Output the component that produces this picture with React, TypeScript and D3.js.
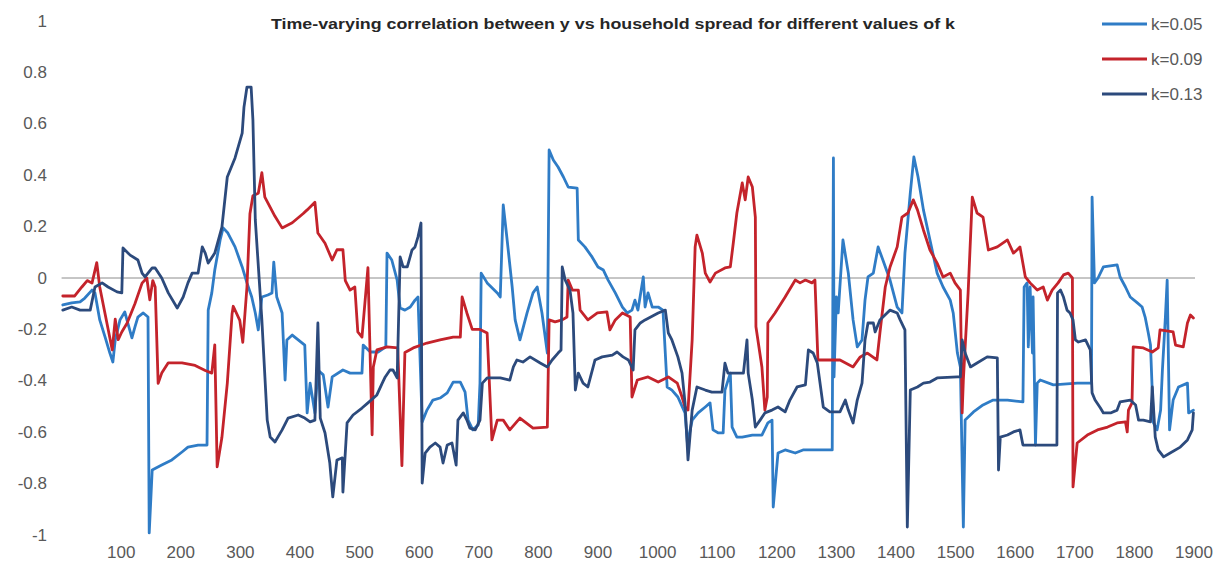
import React from "react";
import * as d3 from "d3";

const TITLE = "Time-varying correlation between y vs household spread for different values of k";
const SERIES_NAMES = ["k=0.05", "k=0.09", "k=0.13"];
const Y_TICKS = [1, 0.8, 0.6, 0.4, 0.2, 0, -0.2, -0.4, -0.6, -0.8, -1];
const X_TICKS = [100, 200, 300, 400, 500, 600, 700, 800, 900, 1000, 1100, 1200, 1300, 1400, 1500, 1600, 1700, 1800, 1900];

// [observation index, correlation]
const k005: [number, number][] = [
  [2,-0.105],[17,-0.097],[31,-0.093],[39,-0.078],[51,-0.047],[56,-0.058],[64,-0.163],[73,-0.23],[81,-0.292],[86,-0.327],
  [90,-0.241],[98,-0.163],[106,-0.132],[111,-0.175],[118,-0.233],[123,-0.191],[128,-0.152],[137,-0.136],[145,-0.152],[147,-0.992],
  [152,-0.747],[168,-0.728],[185,-0.708],[202,-0.677],[212,-0.658],[229,-0.65],[244,-0.65],[246,-0.125],[252,-0.058],[257,0.031],
  [266,0.148],[271,0.195],[279,0.175],[291,0.121],[303,0.043],[311,-0.019],[319,-0.074],[325,-0.136],[330,-0.202],[336,-0.074],
  [346,-0.066],[353,-0.058],[356,0.062],[361,-0.074],[370,-0.136],[375,-0.397],[378,-0.241],[387,-0.222],[397,-0.241],[408,-0.261],
  [412,-0.525],[417,-0.409],[425,-0.525],[430,-0.358],[439,-0.377],[447,-0.502],[454,-0.385],[472,-0.358],[484,-0.37],[504,-0.37],
  [506,-0.261],[518,-0.288],[531,-0.288],[544,-0.268],[546,0.097],[554,0.07],[563,-0.008],[568,-0.117],[576,-0.125],[585,-0.113],
  [593,-0.086],[598,-0.074],[605,-0.56],[613,-0.514],[623,-0.475],[635,-0.467],[647,-0.447],[657,-0.405],[669,-0.405],[677,-0.444],
  [682,-0.553],[690,-0.591],[699,-0.572],[702,-0.409],[704,0.019],[714,-0.019],[731,-0.058],[736,-0.074],[741,0.284],[747,0.16],
  [756,-0.035],[761,-0.163],[769,-0.241],[781,-0.136],[791,-0.058],[798,-0.035],[806,-0.136],[815,-0.292],[818,0.498],[825,0.459],
  [833,0.432],[842,0.393],[850,0.354],[865,0.35],[867,0.148],[878,0.121],[890,0.082],[900,0.043],[909,0.031],[917,-0.008],
  [929,-0.058],[941,-0.113],[949,-0.136],[957,-0.125],[962,-0.086],[967,-0.125],[976,0.004],[979,-0.113],[984,-0.058],[991,-0.113],
  [1001,-0.113],[1009,-0.125],[1016,-0.424],[1024,-0.436],[1034,-0.463],[1046,-0.525],[1050,-0.642],[1058,-0.553],[1068,-0.525],[1080,-0.502],
  [1088,-0.486],[1093,-0.591],[1102,-0.603],[1110,-0.603],[1113,-0.436],[1122,-0.37],[1125,-0.58],[1133,-0.619],[1142,-0.619],[1159,-0.611],
  [1175,-0.611],[1185,-0.564],[1192,-0.553],[1194,-0.891],[1202,-0.681],[1214,-0.669],[1231,-0.681],[1244,-0.669],[1268,-0.669],[1293,-0.669],
  [1295,0.467],[1296,-0.385],[1300,-0.074],[1303,-0.136],[1311,0.148],[1320,0.019],[1328,-0.163],[1335,-0.268],[1343,-0.241],[1348,-0.086],
  [1353,0.004],[1362,0.019],[1370,0.121],[1378,0.07],[1390,-0.008],[1402,-0.113],[1410,-0.136],[1415,0.097],[1424,0.331],[1430,0.471],
  [1437,0.393],[1446,0.265],[1457,0.148],[1469,0.019],[1479,-0.035],[1491,-0.086],[1496,-0.136],[1503,-0.292],[1508,-0.346],[1513,-0.969],
  [1516,-0.553],[1530,-0.521],[1546,-0.494],[1563,-0.475],[1587,-0.475],[1613,-0.482],[1615,-0.035],[1620,-0.019],[1622,-0.268],[1625,-0.035],
  [1629,-0.292],[1630,-0.074],[1634,-0.65],[1637,-0.409],[1642,-0.397],[1664,-0.416],[1704,-0.409],[1728,-0.409],[1729,0.315],[1733,-0.019],
  [1739,0],[1748,0.043],[1771,0.051],[1776,0.004],[1785,-0.035],[1793,-0.074],[1805,-0.097],[1813,-0.113],[1818,-0.152],[1823,-0.21],
  [1827,-0.261],[1832,-0.564],[1838,-0.591],[1844,-0.514],[1847,-0.358],[1852,-0.152],[1855,-0.008],[1859,-0.591],[1865,-0.475],[1874,-0.424],
  [1889,-0.409],[1891,-0.525],[1899,-0.514]
];

const k009: [number, number][] = [
  [2,-0.07],[22,-0.07],[34,-0.035],[43,-0.01],[51,-0.02],[59,0.06],[64,-0.035],[73,-0.14],[85,-0.28],[90,-0.16],
  [95,-0.24],[101,-0.21],[110,-0.175],[123,-0.1],[135,-0.02],[143,0],[148,-0.085],[153,-0.01],[157,-0.035],[162,-0.41],
  [168,-0.37],[179,-0.33],[202,-0.33],[224,-0.34],[241,-0.36],[252,-0.37],[257,-0.26],[261,-0.735],[269,-0.62],[278,-0.41],
  [286,-0.14],[288,-0.11],[299,-0.165],[304,-0.25],[311,-0.035],[316,0.25],[321,0.32],[330,0.33],[336,0.41],[341,0.315],
  [358,0.24],[370,0.195],[387,0.215],[405,0.25],[412,0.265],[425,0.295],[430,0.175],[442,0.135],[454,0.07],[462,0.11],
  [472,0.11],[476,-0.01],[484,-0.047],[492,-0.035],[497,-0.21],[504,-0.23],[514,0.04],[521,-0.61],[523,-0.346],[529,-0.28],
  [546,-0.268],[564,-0.272],[571,-0.73],[576,-0.29],[590,-0.272],[613,-0.253],[635,-0.241],[657,-0.23],[669,-0.23],[672,-0.074],
  [680,-0.136],[689,-0.2],[702,-0.2],[714,-0.214],[722,-0.63],[731,-0.553],[741,-0.553],[752,-0.591],[769,-0.545],[791,-0.584],
  [815,-0.58],[818,-0.163],[828,-0.171],[840,-0.163],[848,-0.152],[850,-0.008],[857,-0.047],[867,-0.047],[870,-0.125],[883,-0.163],
  [899,-0.136],[915,-0.132],[920,-0.202],[929,-0.163],[941,-0.136],[954,-0.152],[957,-0.463],[966,-0.397],[984,-0.385],[1001,-0.405],
  [1018,-0.385],[1033,-0.409],[1041,-0.463],[1046,-0.502],[1051,-0.514],[1058,-0.241],[1063,0.121],[1066,0.167],[1075,0.097],[1080,0.019],
  [1088,-0.016],[1097,0.019],[1113,0.039],[1122,0.043],[1127,0.136],[1133,0.253],[1142,0.37],[1147,0.304],[1152,0.393],[1159,0.354],
  [1164,0.237],[1165,-0.19],[1175,-0.346],[1180,-0.514],[1184,-0.463],[1185,-0.175],[1197,-0.136],[1214,-0.074],[1231,-0.008],[1239,-0.019],
  [1248,-0.008],[1259,-0.019],[1264,-0.008],[1269,-0.319],[1278,-0.319],[1306,-0.319],[1328,-0.346],[1340,-0.307],[1352,-0.292],[1368,-0.319],
  [1373,-0.214],[1382,-0.035],[1390,0.043],[1402,0.121],[1410,0.237],[1420,0.253],[1429,0.304],[1436,0.265],[1446,0.187],[1457,0.109],
  [1469,0.058],[1479,0.004],[1491,0.019],[1499,-0.019],[1508,-0.047],[1511,-0.525],[1513,-0.397],[1521,-0.058],[1528,0.315],[1536,0.253],
  [1546,0.237],[1555,0.109],[1570,0.121],[1587,0.148],[1597,0.097],[1603,0.109],[1608,0.121],[1617,0.004],[1625,-0.019],[1637,-0.047],
  [1647,-0.035],[1654,-0.086],[1662,-0.047],[1672,-0.019],[1681,0.012],[1689,0.019],[1696,0],[1697,-0.813],[1704,-0.642],[1721,-0.611],
  [1738,-0.591],[1755,-0.58],[1771,-0.564],[1785,-0.56],[1788,-0.599],[1790,-0.514],[1796,-0.486],[1798,-0.268],[1815,-0.272],[1830,-0.288],
  [1840,-0.272],[1843,-0.202],[1865,-0.21],[1869,-0.261],[1882,-0.268],[1889,-0.175],[1894,-0.144],[1899,-0.156]
];

const k013: [number, number][] = [
  [2,-0.125],[17,-0.113],[31,-0.125],[48,-0.125],[56,-0.035],[68,-0.019],[78,-0.035],[93,-0.054],[101,-0.058],[103,0.117],
  [115,0.089],[128,0.07],[135,0.019],[140,0.004],[152,0.039],[157,0.039],[168,0],[179,-0.058],[194,-0.117],[204,-0.074],
  [212,-0.019],[219,0.019],[229,0.019],[236,0.121],[241,0.097],[246,0.058],[257,0.097],[269,0.198],[278,0.393],[291,0.467],
  [303,0.564],[306,0.665],[311,0.743],[318,0.743],[321,0.615],[325,0.226],[336,-0.163],[345,-0.553],[350,-0.619],[358,-0.638],
  [370,-0.591],[380,-0.545],[397,-0.533],[408,-0.545],[417,-0.56],[425,-0.553],[430,-0.175],[434,-0.545],[442,-0.603],[450,-0.72],
  [455,-0.852],[462,-0.708],[471,-0.7],[472,-0.833],[479,-0.564],[489,-0.533],[504,-0.506],[514,-0.486],[529,-0.455],[538,-0.409],
  [543,-0.385],[551,-0.358],[556,-0.358],[563,-0.389],[568,0.082],[573,0.043],[580,0.043],[588,0.109],[593,0.121],[598,0.16],
  [603,0.214],[605,-0.798],[610,-0.681],[618,-0.658],[627,-0.642],[635,-0.658],[640,-0.72],[647,-0.65],[655,-0.642],[662,-0.728],
  [665,-0.553],[674,-0.525],[680,-0.553],[685,-0.584],[694,-0.591],[702,-0.553],[706,-0.409],[714,-0.389],[736,-0.389],[752,-0.397],
  [758,-0.346],[764,-0.319],[774,-0.327],[786,-0.307],[803,-0.331],[815,-0.346],[823,-0.319],[833,-0.292],[838,-0.28],[840,0.043],
  [845,-0.008],[853,-0.047],[858,-0.136],[862,-0.436],[867,-0.37],[875,-0.409],[883,-0.424],[895,-0.319],[907,-0.307],[924,-0.3],
  [932,-0.288],[942,-0.307],[951,-0.319],[959,-0.358],[962,-0.202],[971,-0.175],[979,-0.163],[1001,-0.136],[1013,-0.125],[1018,-0.214],
  [1024,-0.241],[1034,-0.307],[1041,-0.37],[1046,-0.486],[1051,-0.708],[1058,-0.514],[1066,-0.424],[1080,-0.436],[1091,-0.444],[1108,-0.444],
  [1113,-0.331],[1118,-0.37],[1144,-0.37],[1150,-0.241],[1152,-0.37],[1159,-0.475],[1164,-0.58],[1172,-0.553],[1180,-0.525],[1192,-0.514],
  [1202,-0.502],[1214,-0.521],[1222,-0.475],[1234,-0.424],[1248,-0.416],[1253,-0.28],[1261,-0.292],[1268,-0.331],[1278,-0.502],[1289,-0.521],
  [1306,-0.521],[1315,-0.475],[1320,-0.514],[1328,-0.564],[1335,-0.475],[1343,-0.409],[1348,-0.241],[1353,-0.175],[1362,-0.175],[1365,-0.21],
  [1373,-0.163],[1385,-0.136],[1390,-0.125],[1402,-0.136],[1407,-0.163],[1415,-0.202],[1419,-0.969],[1424,-0.436],[1436,-0.424],[1446,-0.409],
  [1457,-0.405],[1469,-0.389],[1503,-0.385],[1508,-0.385],[1511,-0.241],[1516,-0.292],[1525,-0.346],[1536,-0.331],[1553,-0.307],[1570,-0.311],
  [1572,-0.747],[1575,-0.619],[1587,-0.611],[1597,-0.599],[1608,-0.591],[1613,-0.65],[1647,-0.65],[1670,-0.65],[1671,-0.058],[1676,-0.047],
  [1681,-0.074],[1687,-0.125],[1692,-0.136],[1697,-0.163],[1701,-0.241],[1706,-0.249],[1718,-0.241],[1726,-0.28],[1729,-0.447],[1734,-0.475],
  [1743,-0.506],[1748,-0.525],[1760,-0.525],[1771,-0.514],[1776,-0.482],[1793,-0.475],[1802,-0.494],[1807,-0.553],[1815,-0.553],[1827,-0.56],
  [1830,-0.424],[1835,-0.619],[1840,-0.669],[1849,-0.696],[1860,-0.681],[1877,-0.658],[1889,-0.63],[1897,-0.591],[1899,-0.525]
];

const SERIES = [k005, k009, k013];
const COLORS = ["#2f7cc6", "#c4232b", "#2c4a7c"];

export default function App() {
  const W = 1227;
  const H = 575;
  const x = d3.scaleLinear().domain([0, 1900]).range([61.6, 1194]);
  const y = d3.scaleLinear().domain([-1, 1]).range([535, 21]);
  const line = d3
    .line<[number, number]>()
    .x((d) => x(d[0]))
    .y((d) => y(d[1]));
  const font = "'Liberation Sans', Arial, sans-serif";
  const legendY = [24, 59, 94];

  return (
    <div style={{ position: "fixed", left: 0, top: 0, width: W, height: H, background: "#fff" }}>
      <svg width={W} height={H} viewBox={`0 0 ${W} ${H}`} style={{ display: "block" }}>
        <rect x={0} y={0} width={W} height={H} fill="#ffffff" />
        <line x1={x(0)} x2={x(1900) + 1} y1={y(0)} y2={y(0)} stroke="#8c8c8c" strokeWidth={1} />
        {Y_TICKS.map((t) => (
          <text
            key={"y" + t}
            x={47}
            y={y(t)}
            textAnchor="end"
            dominantBaseline="central"
            fontFamily={font}
            fontSize={17}
            fill="#595959"
          >
            {String(t)}
          </text>
        ))}
        {X_TICKS.map((t) => (
          <text
            key={"x" + t}
            x={x(t)}
            y={552}
            textAnchor="middle"
            dominantBaseline="central"
            fontFamily={font}
            fontSize={17}
            fill="#595959"
          >
            {String(t)}
          </text>
        ))}
        {SERIES.map((s, i) => (
          <path
            key={"s" + i}
            d={line(s) || ""}
            fill="none"
            stroke={COLORS[i]}
            strokeWidth={2.8}
            strokeLinejoin="round"
            strokeLinecap="round"
          />
        ))}
        <text
          x={613}
          y={23}
          textAnchor="middle"
          dominantBaseline="central"
          fontFamily={font}
          fontWeight="bold"
          fontSize={15}
          fill="#262626"
          textLength={684}
          lengthAdjust="spacingAndGlyphs"
        >
          {TITLE}
        </text>
        {SERIES_NAMES.map((n, i) => (
          <g key={"l" + i}>
            <line x1={1102} x2={1147} y1={legendY[i]} y2={legendY[i]} stroke={COLORS[i]} strokeWidth={3} />
            <text
              x={1151}
              y={legendY[i]}
              dominantBaseline="central"
              fontFamily={font}
              fontSize={17}
              fill="#595959"
            >
              {n}
            </text>
          </g>
        ))}
      </svg>
    </div>
  );
}
